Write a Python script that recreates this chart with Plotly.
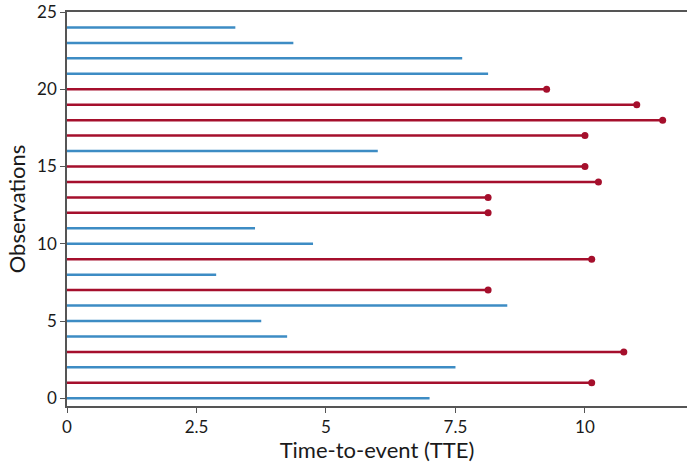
import plotly.graph_objects as go

observations = list(range(25))
tte = [7.0, 10.13, 7.5, 10.75, 4.25, 3.75, 8.5, 8.13, 2.88, 10.13,
       4.75, 3.63, 8.13, 8.13, 10.26, 10.0, 6.0, 10.0, 11.5, 11.0,
       9.26, 8.13, 7.63, 4.37, 3.25]
event = [0, 1, 0, 1, 0, 0, 0, 1, 0, 1,
         0, 0, 1, 1, 1, 1, 0, 1, 1, 1,
         1, 0, 0, 0, 0]
x_ticks = [0, 2.5, 5, 7.5, 10]
x_tick_labels = ["0", "2.5", "5", "7.5", "10"]
y_ticks = [0, 5, 10, 15, 20, 25]

RED = "#a50f2c"
BLUE = "#3d8cc4"

fig = go.Figure()
for obs, t, e in zip(observations, tte, event):
    fig.add_trace(go.Scatter(
        x=[0, t], y=[obs, obs], mode="lines",
        line=dict(color=RED if e else BLUE, width=2.5),
        showlegend=False, hoverinfo="skip"))

ev_x = [t for t, e in zip(tte, event) if e]
ev_y = [o for o, e in zip(observations, event) if e]
fig.add_trace(go.Scatter(x=ev_x, y=ev_y, mode="markers",
                         marker=dict(color=RED, size=7),
                         showlegend=False))

font_family = "Lato, DejaVu Sans, sans-serif"
fig.update_layout(
    width=687, height=463,
    margin=dict(l=67, r=0, t=12, b=57, autoexpand=False),
    plot_bgcolor="white", paper_bgcolor="white",
    font=dict(family=font_family, color="#1a1a1a", size=17),
    xaxis=dict(range=[0, 11.97], tickvals=x_ticks, ticktext=x_tick_labels,
               showgrid=False, zeroline=False, showline=True,
               linecolor="#555", linewidth=1.5, mirror=True,
               ticks="outside", ticklen=5, tickcolor="#555", automargin=False,
               title=dict(text="Time-to-event (TTE)", font=dict(size=22), standoff=9)),
    yaxis=dict(range=[-0.5, 25], tickvals=y_ticks,
               showgrid=False, zeroline=False, showline=True,
               linecolor="#555", linewidth=1.5, automargin=False,
               ticks="outside", ticklen=5, tickcolor="#555",
               title=dict(text="Observations", font=dict(size=22), standoff=5)),
)
fig.write_html("out.html")
